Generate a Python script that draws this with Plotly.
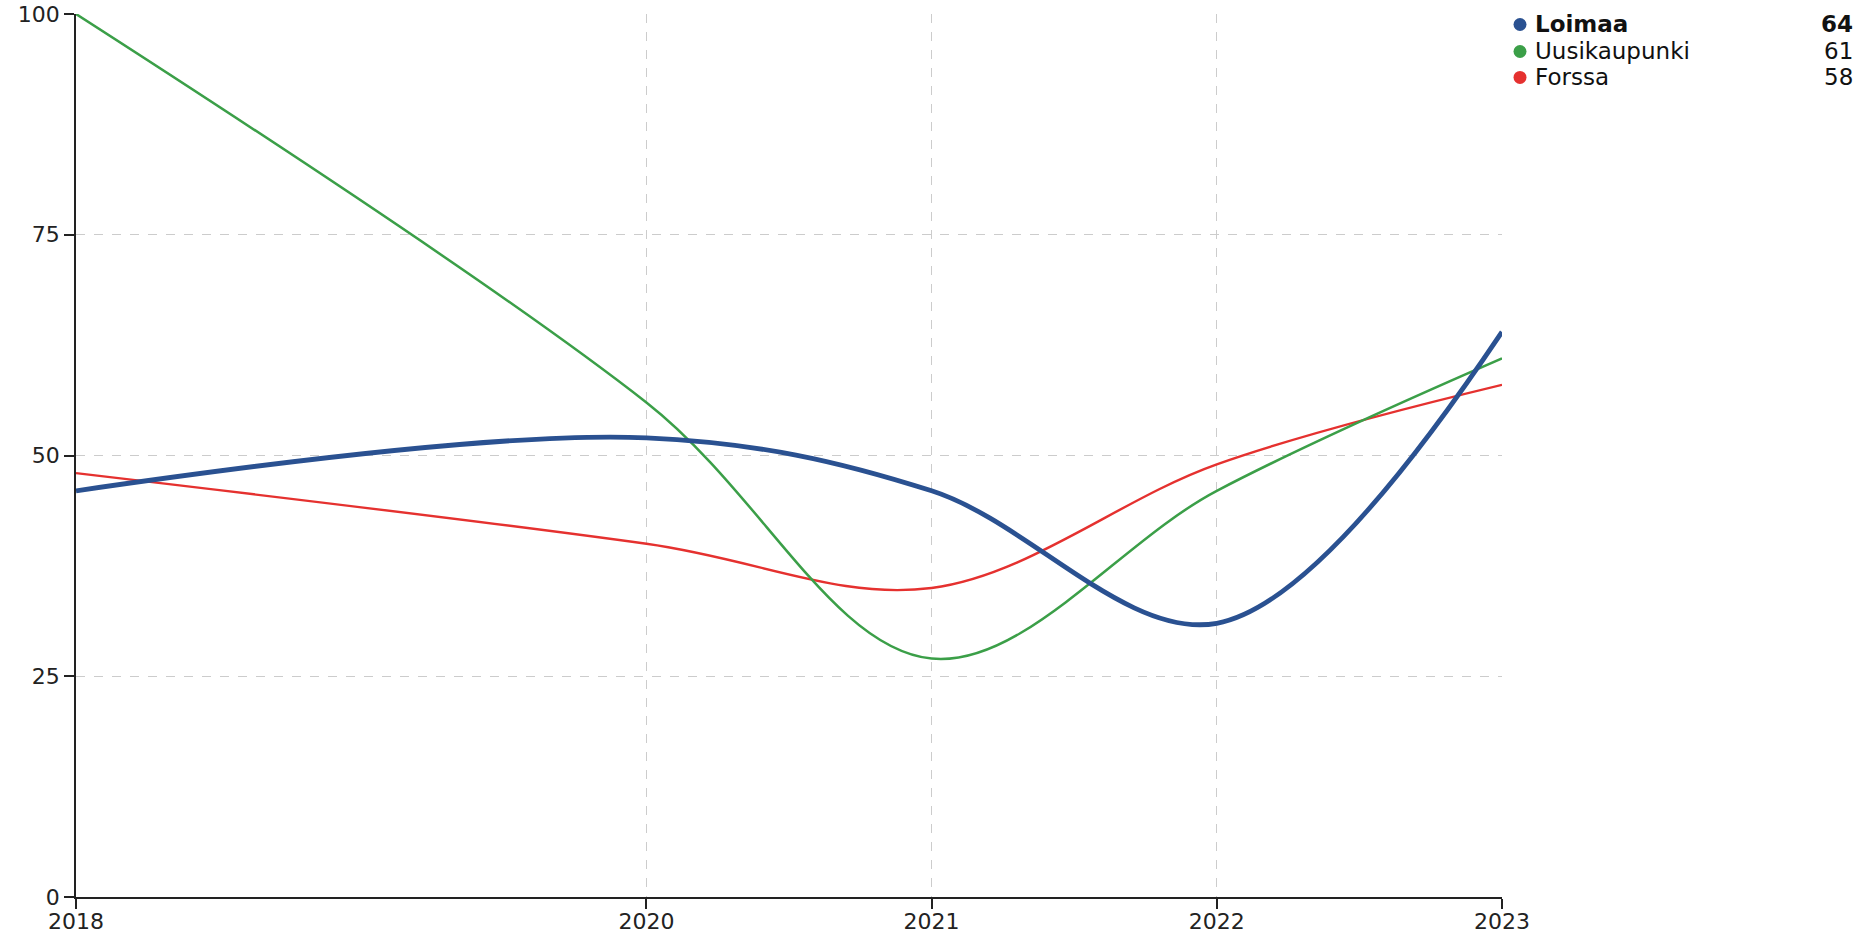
import plotly.graph_objects as go

years = [2018, 2020, 2021, 2022, 2023]
series_names = ["Loimaa", "Uusikaupunki", "Forssa"]
loimaa = [46, 52, 46, 31, 64]
uusikaupunki = [100, 56, 27, 46, 61]
forssa = [48, 40, 35, 49, 58]
y_ticks = [0, 25, 50, 75, 100]

colors = {"Loimaa": "#2a5191", "Uusikaupunki": "#3b9f48", "Forssa": "#e5312f"}
widths = {"Loimaa": 4.8, "Uusikaupunki": 2.5, "Forssa": 2.4}
values = {"Loimaa": loimaa, "Uusikaupunki": uusikaupunki, "Forssa": forssa}

W, H = 1865, 936
# plot area in page pixels: left 76, right 1502, top 13.5, bottom 897
ML, MT = 76, 13.5
MR = W - 1502
MB = H - 897
PW, PH = W - ML - MR, H - MT - MB

def px_x(px):
    return (px - ML) / PW

def px_y(py):
    return (H - MB - py) / PH

fig = go.Figure()
for name in ["Forssa", "Uusikaupunki", "Loimaa"]:
    fig.add_trace(go.Scatter(
        x=years, y=values[name], mode="lines", name=name,
        line=dict(color=colors[name], width=widths[name], shape="spline", smoothing=1.0),
        showlegend=False, hoverinfo="skip"))

font_family = "DejaVu Sans"
row_y = [24, 51, 77]
for i, name in enumerate(series_names):
    cy = row_y[i]
    fig.add_shape(type="circle", xref="paper", yref="paper",
                  xsizemode="pixel", ysizemode="pixel",
                  xanchor=px_x(1520), yanchor=px_y(cy),
                  x0=-6.5, x1=6.5, y0=-6.5, y1=6.5,
                  fillcolor=colors[name], line=dict(width=0))
    bold = (i == 0)
    label = f"<b>{name}</b>" if bold else name
    val = f"<b>{values[name][-1]}</b>" if bold else str(values[name][-1])
    fig.add_annotation(x=px_x(1533), y=px_y(cy), xref="paper", yref="paper",
                       text=label, showarrow=False, xanchor="left", yanchor="middle",
                       font=dict(family=font_family, size=23, color="#111"))
    fig.add_annotation(x=px_x(1855), y=px_y(cy), xref="paper", yref="paper",
                       text=val, showarrow=False, xanchor="right", yanchor="middle",
                       font=dict(family=font_family, size=23, color="#111"))

fig.update_layout(
    width=W, height=H,
    margin=dict(l=ML, r=MR, t=MT, b=MB, autoexpand=False),
    paper_bgcolor="white", plot_bgcolor="white",
    font=dict(family=font_family, size=22, color="#222"),
    showlegend=False,
)
fig.update_xaxes(
    range=[2018, 2023], tickvals=years, ticktext=[str(y) for y in years],
    showline=True, linecolor="#222", linewidth=1.5,
    ticks="outside", ticklen=10, tickcolor="#222", tickwidth=1.5,
    ticklabelstandoff=-6,
    showgrid=True, gridcolor="#cccccc", griddash="dash", gridwidth=1,
    zeroline=False, automargin=False, fixedrange=True,
)
fig.update_yaxes(
    range=[0, 100], tickvals=y_ticks,
    showline=True, linecolor="#222", linewidth=1.5,
    ticks="outside", ticklen=10, tickcolor="#222", tickwidth=1.5,
    showgrid=True, gridcolor="#cccccc", griddash="dash", gridwidth=1,
    zeroline=False, automargin=False, fixedrange=True,
)

fig.write_html("out.html", config={"displayModeBar": False},
               post_script="document.body.style.margin='0';document.body.style.overflow='hidden';")
